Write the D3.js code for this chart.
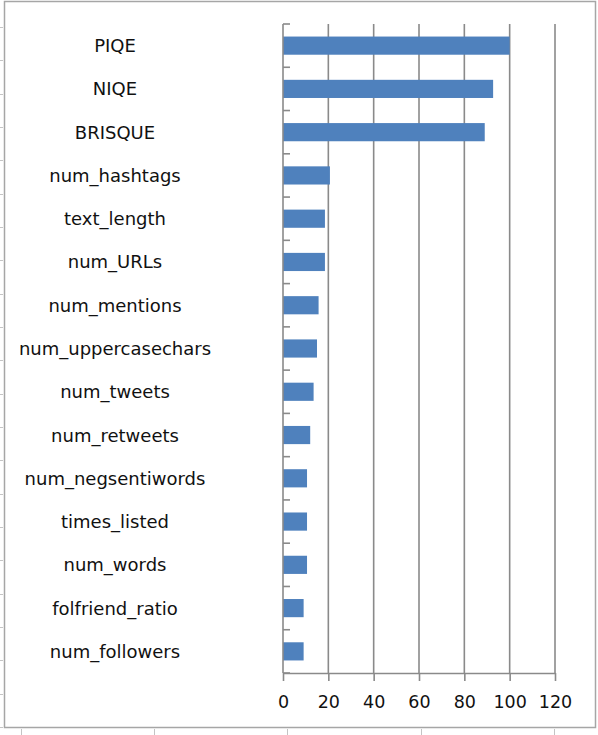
<!DOCTYPE html>
<html>
<head>
<meta charset="utf-8">
<script src="https://cdn.jsdelivr.net/npm/d3@7"></script>
<style>
  body { margin: 0; background: #fff; }
  svg { display: block; }
  text { font-family: "DejaVu Sans", sans-serif; fill: #111; }
</style>
</head>
<body>
<svg id="chart"></svg>
<script>
// feature names, top to bottom
const categories = ["PIQE", "NIQE", "BRISQUE", "num_hashtags", "text_length", "num_URLs",
  "num_mentions", "num_uppercasechars", "num_tweets", "num_retweets", "num_negsentiwords",
  "times_listed", "num_words", "folfriend_ratio", "num_followers"];
const importance = [100, 92.7, 89, 20.7, 18.5, 18.5, 15.7, 15, 13.5, 12, 10.6, 10.6, 10.6, 9.1, 9.1];
const xTicks = [0, 20, 40, 60, 80, 100, 120];

var width = 598, height = 735;
var svg = d3.select("#chart").attr("width", width).attr("height", height);

var gridColor = "#8a8a8a";

// faint ruler marks outside the frame
var ruler = svg.append("g").attr("stroke", "#c4c4c4").attr("stroke-width", 1);
ruler.selectAll("line.l")
  .data(d3.range(27, 727, 33.33))
  .enter().append("line")
  .attr("x1", 0).attr("x2", 3)
  .attr("y1", function(d) { return Math.round(d) + 0.5; })
  .attr("y2", function(d) { return Math.round(d) + 0.5; });
ruler.selectAll("line.b")
  .data(d3.range(20.7, 598, 133.33))
  .enter().append("line")
  .attr("x1", function(d) { return Math.round(d) + 0.5; })
  .attr("x2", function(d) { return Math.round(d) + 0.5; })
  .attr("y1", 729).attr("y2", 735);

// frame
svg.append("rect")
  .attr("x", 4.5).attr("y", 1.5)
  .attr("width", 591).attr("height", 726)
  .attr("fill", "#fff")
  .attr("stroke", "#a6a6a6")
  .attr("stroke-width", 1.5);

var x = d3.scaleLinear().domain([0, 120]).range([283, 555]);
var y = d3.scaleBand().domain(categories).range([24, 673])
  .paddingInner(0.58).paddingOuter(0.29);

var plotTop = y.range()[0], plotBottom = y.range()[1];

// vertical gridlines
svg.append("g").selectAll("line")
  .data(xTicks.slice(1))
  .enter().append("line")
  .attr("x1", function(d) { return x(d); })
  .attr("x2", function(d) { return x(d); })
  .attr("y1", plotTop).attr("y2", plotBottom)
  .attr("stroke", gridColor).attr("stroke-width", 1.6);

// bars
svg.append("g").selectAll("rect")
  .data(importance)
  .enter().append("rect")
  .attr("x", x(0))
  .attr("y", function(d, i) { return y(categories[i]); })
  .attr("width", function(d) { return x(d) - x(0); })
  .attr("height", y.bandwidth())
  .attr("fill", "#4f81bd");

// category axis with ticks between bands
var yAxis = svg.append("g");
yAxis.append("line")
  .attr("x1", x(0)).attr("x2", x(0))
  .attr("y1", plotTop).attr("y2", plotBottom)
  .attr("stroke", gridColor).attr("stroke-width", 1.6);
yAxis.selectAll("line.tick")
  .data(d3.range(categories.length + 1))
  .enter().append("line")
  .attr("class", "tick")
  .attr("x1", x(0)).attr("x2", x(0) + 7)
  .attr("y1", function(i) { return plotTop + i * y.step(); })
  .attr("y2", function(i) { return plotTop + i * y.step(); })
  .attr("stroke", gridColor).attr("stroke-width", 1.6);

// category labels
svg.append("g").selectAll("text")
  .data(categories)
  .enter().append("text")
  .attr("x", 115)
  .attr("y", function(d) { return y(d) + y.bandwidth() / 2; })
  .attr("dy", "0.36em")
  .attr("text-anchor", "middle")
  .style("font-size", "18px")
  .text(function(d) { return d; });

// value axis
var xAxis = svg.append("g")
  .attr("transform", "translate(0," + plotBottom + ")")
  .call(d3.axisBottom(x).tickValues(xTicks).tickSize(8).tickSizeOuter(0).tickPadding(15));
xAxis.select(".domain").attr("stroke", gridColor).attr("stroke-width", 1.6);
xAxis.selectAll(".tick line").attr("stroke", gridColor).attr("stroke-width", 1.6);
xAxis.selectAll(".tick text")
  .style("font-size", "17.5px")
  .style("font-family", "DejaVu Sans, sans-serif")
  .attr("fill", "#111");
</script>
</body>
</html>
